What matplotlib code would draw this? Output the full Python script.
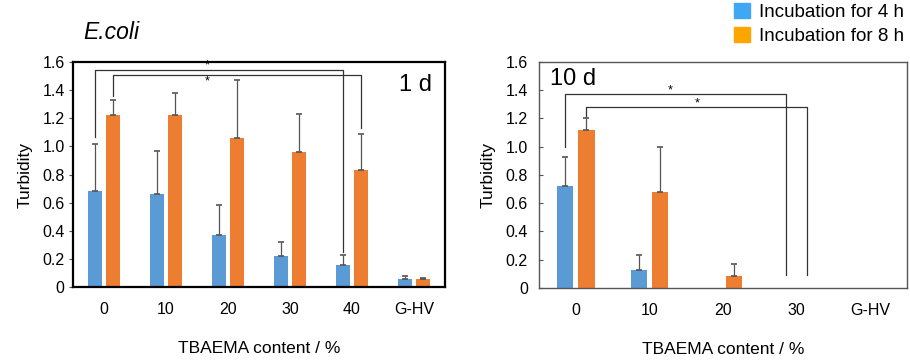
import numpy as np
import matplotlib
matplotlib.use("Agg")
import matplotlib.pyplot as plt
from matplotlib.patches import Patch

plt.rcParams['font.family'] = ['Liberation Sans', 'DejaVu Sans']

# data
cats_1d = ['0', '10', '20', '30', '40', 'G-HV']
h4_1d = [0.68, 0.66, 0.37, 0.22, 0.16, 0.06]
h4_1d_err = [0.34, 0.31, 0.21, 0.10, 0.07, 0.015]
h8_1d = [1.22, 1.22, 1.06, 0.96, 0.83, 0.055]
h8_1d_err = [0.11, 0.16, 0.41, 0.27, 0.26, 0.01]

cats_10d = ['0', '10', '20', '30', 'G-HV']
h4_10d = [0.72, 0.125, 0.0, 0.0, 0.0]
h4_10d_err = [0.21, 0.11, 0.0, 0.0, 0.0]
h8_10d = [1.12, 0.68, 0.083, 0.0, 0.0]
h8_10d_err = [0.08, 0.32, 0.087, 0.0, 0.0]

ytick_vals = [0, 0.2, 0.4, 0.6, 0.8, 1.0, 1.2, 1.4, 1.6]
ytick_labels = ['0', '0.2', '0.4', '0.6', '0.8', '1.0', '1.2', '1.4', '1.6']

# significance brackets: (group start, group end, series, y start, y top, y end, star x, star y)
brackets_1d = [(0, 4, 'b', 1.07, 1.54, 0.25, 1.66, 1.575),
               (0, 4, 'o', 1.36, 1.51, 1.13, 1.66, 1.465)]
brackets_10d = [(0, 3, 'b', 1.0, 1.37, 0.09, 1.28, 1.40),
                (0, 3, 'o', 1.22, 1.28, 0.09, 1.65, 1.31)]

c_blue = '#5b9bd5'
c_orange = '#ed7d31'
off = 0.145
w = 0.22


def draw_panel(ax, cats, b, be, o, oe, brackets, tag, tag_x, tag_y, tag_ha,
               spine_c, spine_w, tickdir, ypad):
    x = np.arange(len(cats))
    ax.bar(x - off, b, w, color=c_blue, zorder=2)
    ax.bar(x + off, o, w, color=c_orange, zorder=2)
    ekw = dict(fmt='none', ecolor='#555555', elinewidth=0.9, capsize=2, capthick=1.2, zorder=3)
    for xs, v, e in [(x - off, b, be), (x + off, o, oe)]:
        v = np.array(v)
        e = np.array(e)
        m = e > 0
        ax.errorbar(xs[m], v[m], yerr=[np.zeros(m.sum()), e[m]], **ekw)
    for (i0, i1, s, y0, yt, y1, sx, sy) in brackets:
        d = -off if s == 'b' else off
        ax.plot([i0 + d, i0 + d, i1 + d, i1 + d], [y0, yt, yt, y1],
                color='#333333', lw=0.9, zorder=4)
        ax.text(sx, sy, '*', ha='center', va='center', fontsize=9)
    ax.set_xlim(-0.5, len(cats) - 0.5)
    ax.set_ylim(0, 1.6)
    ax.set_xticks(x)
    ax.set_xticklabels(cats)
    ax.set_yticks(ytick_vals)
    ax.set_yticklabels(ytick_labels)
    ax.tick_params(axis='x', length=0, pad=11, labelsize=11.5)
    ax.tick_params(axis='y', length=3, direction=tickdir, pad=ypad, labelsize=11.5, color='#555555')
    for sp in ax.spines.values():
        sp.set_color(spine_c)
        sp.set_linewidth(spine_w)
    ax.set_ylabel('Turbidity', fontsize=12.5, labelpad=7)
    ax.set_xlabel('TBAEMA content / %', fontsize=12.5, labelpad=17)
    ax.text(tag_x, tag_y, tag, transform=ax.transAxes, ha=tag_ha, va='center', fontsize=17)


fig = plt.figure(figsize=(9.1, 3.64), dpi=100)
ax1 = fig.add_axes([0.0802, 0.2115, 0.4088, 0.618])
ax2 = fig.add_axes([0.5923, 0.2088, 0.4044, 0.6209])

draw_panel(ax1, cats_1d, h4_1d, h4_1d_err, h8_1d, h8_1d_err, brackets_1d,
           '1 d', 0.965, 0.9, 'right', 'black', 1.6, 'out', 3)
draw_panel(ax2, cats_10d, h4_10d, h4_10d_err, h8_10d, h8_10d_err, brackets_10d,
           '10 d', 0.03, 0.925, 'left', '#555555', 1.0, 'in', 8)

fig.text(0.091, 0.912, 'E.coli', style='italic', fontsize=16.5, ha='left', va='center')

handles = [Patch(color='#3fa7f3'), Patch(color='#ffa500')]
fig.legend(handles, ['Incubation for 4 h', 'Incubation for 8 h'],
           loc='upper right', bbox_to_anchor=(0.997, 1.0), frameon=False,
           fontsize=13.5, handlelength=0.85, handleheight=0.9, handletextpad=0.5,
           labelspacing=0.3, borderpad=0.15, borderaxespad=0)

fig.savefig('out.png', dpi=100)
